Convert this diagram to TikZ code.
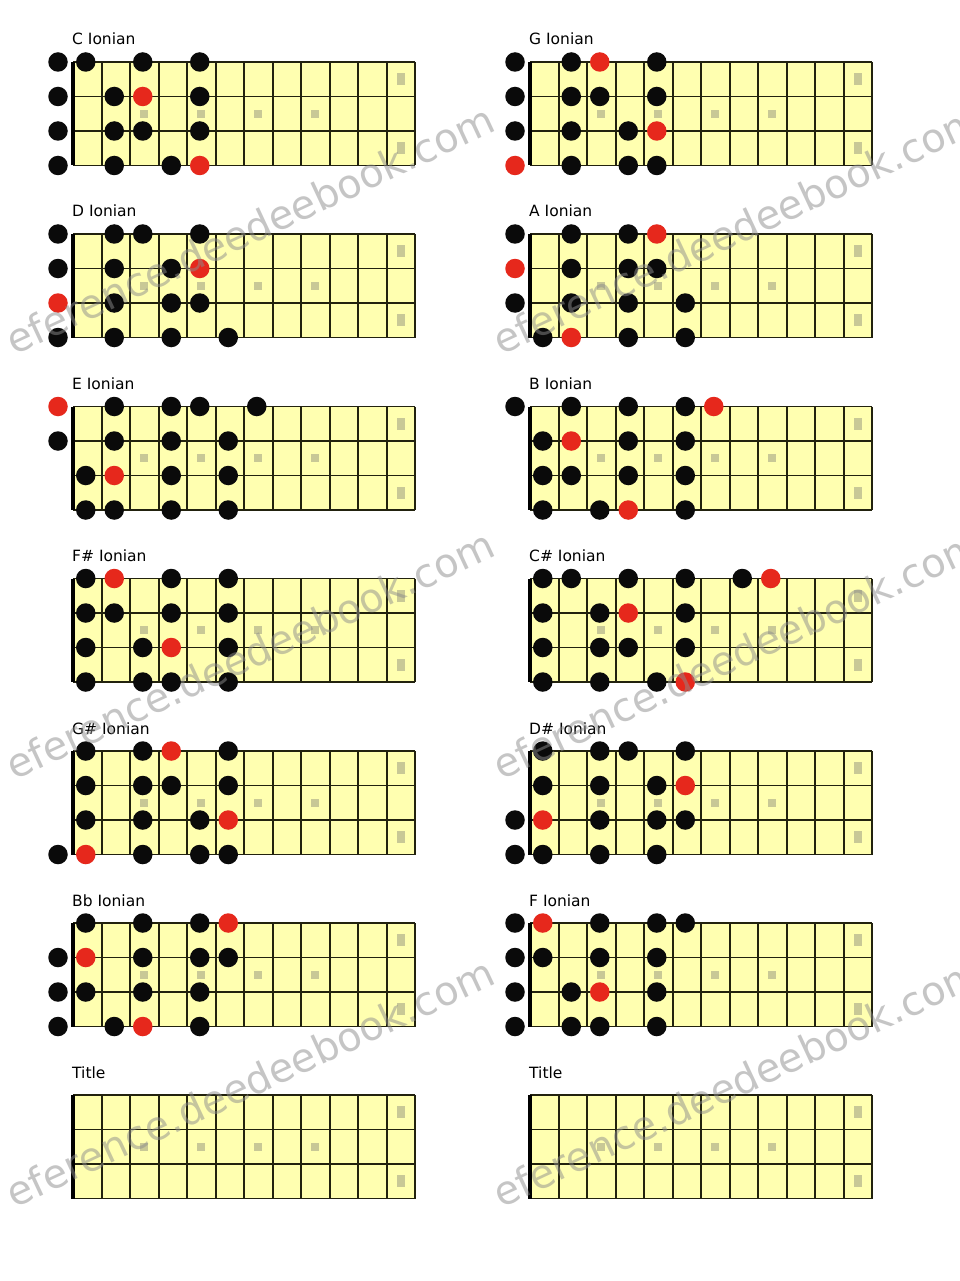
\documentclass[tikz,border=0pt]{standalone}
\usepackage{fontspec}
\setmainfont{DejaVu Sans}
\definecolor{fbyellow}{RGB}{255,255,176}
\definecolor{fbline}{RGB}{34,34,14}
\definecolor{fbinlay}{RGB}{200,200,150}
\definecolor{fbk}{RGB}{10,10,10}
\definecolor{fbr}{RGB}{230,40,28}
\definecolor{wmgray}{RGB}{140,140,140}
\tikzset{
  fbfill/.style={fill=fbyellow},
  fbstring/.style={draw=fbline,line width=1.6pt},
  fbfret/.style={draw=fbline,line width=2pt},
  fbnut/.style={draw=black,line width=3.2pt},
  fbinl/.style={fill=fbinlay},
  fbtitle/.style={font=\fontsize{15.5}{17}\selectfont,inner sep=0pt,anchor=base west},
  fbdot/.style={circle,minimum size=19.5pt,inner sep=0pt},
  wmark/.style={font=\fontsize{40}{42}\selectfont,text=wmgray,text opacity=0.5,anchor=west,rotate=25,inner sep=0pt}
}
% #1 x0, #2 y0, #3 title, #4 id
\newcommand\fbBoard[4]{%
  \fill[fbfill] (#1,#2) rectangle ++(342,103.5);
  \foreach \k in {3,5,7,9}{\fill[fbinl] ({#1+28.5*(\k-0.5)-4},{#2+51.75-4}) rectangle ++(8,8);}
  \fill[fbinl] ({#1+28.5*11.5-4},{#2+17.25-6}) rectangle ++(8,12);
  \fill[fbinl] ({#1+28.5*11.5-4},{#2+86.25-6}) rectangle ++(8,12);
  \foreach \k in {1,...,12}{\draw[fbfret] ({#1+28.5*\k},#2) -- ++(0,103.5);}
  \foreach \s in {0,...,3}{\draw[fbstring] (#1,{#2+34.5*\s}) -- ++(342,0);}
  \draw[fbnut] (#1,#2) -- ++(0,103.5);
  \node[fbtitle] (#4-title) at (#1-1,#2-17) {#3};
}
% #1 x0, #2 y0, #3 id, #4 list string/fret/colour
\newcommand\fbDots[4]{%
  \foreach \s/\f/\c in {#4}{%
    \pgfmathsetmacro\dx{ifthenelse(\f==0,-15,28.5*(\f-0.5)-1.5)}%
    \node[fbdot,fill=fb\c] (#3-\s-\f) at ({#1+\dx},{#2+34.5*(\s-1)}) {};
  }%
}
\begin{document}
\begin{tikzpicture}[x=1pt,y=-1pt]
\useasboundingbox (0,0) rectangle (960,1281);
\fill[white] (0,0) rectangle (960,1281);
% row 0
\fbBoard{73}{62}{C Ionian}{C}
\fbDots{73}{62}{C}{1/0/k,1/1/k,1/3/k,1/5/k,2/0/k,2/2/k,2/3/r,2/5/k,3/0/k,3/2/k,3/3/k,3/5/k,4/0/k,4/2/k,4/4/k,4/5/r}
\fbBoard{530}{62}{G Ionian}{G}
\fbDots{530}{62}{G}{1/0/k,1/2/k,1/3/r,1/5/k,2/0/k,2/2/k,2/3/k,2/5/k,3/0/k,3/2/k,3/4/k,3/5/r,4/0/r,4/2/k,4/4/k,4/5/k}
% row 1
\fbBoard{73}{234}{D Ionian}{D}
\fbDots{73}{234}{D}{1/0/k,1/2/k,1/3/k,1/5/k,2/0/k,2/2/k,2/4/k,2/5/r,3/0/r,3/2/k,3/4/k,3/5/k,4/0/k,4/2/k,4/4/k,4/6/k}
\fbBoard{530}{234}{A Ionian}{A}
\fbDots{530}{234}{A}{1/0/k,1/2/k,1/4/k,1/5/r,2/0/r,2/2/k,2/4/k,2/5/k,3/0/k,3/2/k,3/4/k,3/6/k,4/1/k,4/2/r,4/4/k,4/6/k}
% row 2
\fbBoard{73}{406.5}{E Ionian}{E}
\fbDots{73}{406.5}{E}{1/0/r,1/2/k,1/4/k,1/5/k,1/7/k,2/0/k,2/2/k,2/4/k,2/6/k,3/1/k,3/2/r,3/4/k,3/6/k,4/1/k,4/2/k,4/4/k,4/6/k}
\fbBoard{530}{406.5}{B Ionian}{B}
\fbDots{530}{406.5}{B}{1/0/k,1/2/k,1/4/k,1/6/k,1/7/r,2/1/k,2/2/r,2/4/k,2/6/k,3/1/k,3/2/k,3/4/k,3/6/k,4/1/k,4/3/k,4/4/r,4/6/k}
% row 3
\fbBoard{73}{578.5}{F\# Ionian}{Fs}
\fbDots{73}{578.5}{Fs}{1/1/k,1/2/r,1/4/k,1/6/k,2/1/k,2/2/k,2/4/k,2/6/k,3/1/k,3/3/k,3/4/r,3/6/k,4/1/k,4/3/k,4/4/k,4/6/k}
\fbBoard{530}{578.5}{C\# Ionian}{Cs}
\fbDots{530}{578.5}{Cs}{1/1/k,1/2/k,1/4/k,1/6/k,1/8/k,1/9/r,2/1/k,2/3/k,2/4/r,2/6/k,3/1/k,3/3/k,3/4/k,3/6/k,4/1/k,4/3/k,4/5/k,4/6/r}
% row 4
\fbBoard{73}{751}{G\# Ionian}{Gs}
\fbDots{73}{751}{Gs}{1/1/k,1/3/k,1/4/r,1/6/k,2/1/k,2/3/k,2/4/k,2/6/k,3/1/k,3/3/k,3/5/k,3/6/r,4/0/k,4/1/r,4/3/k,4/5/k,4/6/k}
\fbBoard{530}{751}{D\# Ionian}{Ds}
\fbDots{530}{751}{Ds}{1/1/k,1/3/k,1/4/k,1/6/k,2/1/k,2/3/k,2/5/k,2/6/r,3/0/k,3/1/r,3/3/k,3/5/k,3/6/k,4/0/k,4/1/k,4/3/k,4/5/k}
% row 5
\fbBoard{73}{923}{Bb Ionian}{Bb}
\fbDots{73}{923}{Bb}{1/1/k,1/3/k,1/5/k,1/6/r,2/0/k,2/1/r,2/3/k,2/5/k,2/6/k,3/0/k,3/1/k,3/3/k,3/5/k,4/0/k,4/2/k,4/3/r,4/5/k}
\fbBoard{530}{923}{F Ionian}{F}
\fbDots{530}{923}{F}{1/0/k,1/1/r,1/3/k,1/5/k,1/6/k,2/0/k,2/1/k,2/3/k,2/5/k,3/0/k,3/2/k,3/3/r,3/5/k,4/0/k,4/2/k,4/3/k,4/5/k}
% row 6
\fbBoard{73}{1095}{Title}{T1}
\fbBoard{530}{1095}{Title}{T2}
% watermark
\node[wmark] (wm1) at (8,342) {eference.deedeebook.com};
\node[wmark] (wm2) at (495,342) {eference.deedeebook.com};
\node[wmark] (wm3) at (8,767) {eference.deedeebook.com};
\node[wmark] (wm4) at (495,767) {eference.deedeebook.com};
\node[wmark] (wm5) at (8,1195) {eference.deedeebook.com};
\node[wmark] (wm6) at (495,1195) {eference.deedeebook.com};
\end{tikzpicture}
\end{document}
